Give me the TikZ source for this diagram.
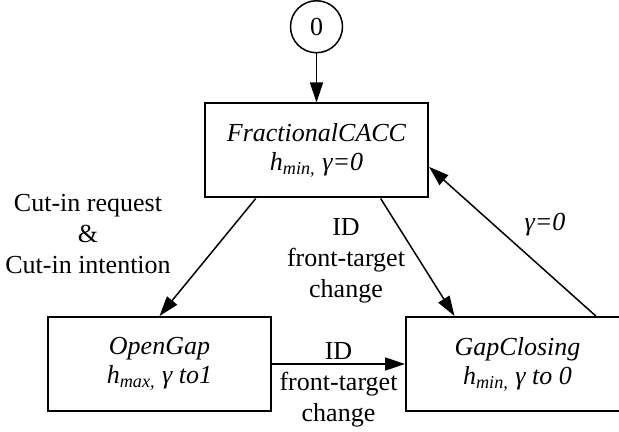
\documentclass[tikz,border=0pt]{standalone}
\usepackage{fontspec}
\setmainfont{Liberation Serif}
\usetikzlibrary{
  arrows.meta,
  positioning,
  calc
}
\tikzset{
  statenode/.style={draw=black,line width=1pt,minimum width=111.5pt,minimum height=47pt,inner sep=0pt,align=center,font=\fontsize{13}{14.5}\selectfont\itshape},
  initnode/.style={draw=black,circle,line width=0.75pt,minimum size=26pt,inner sep=0pt,font=\fontsize{13}{15}\selectfont},
  transarrow/.style={-{Triangle[length=10pt,width=6.5pt]},line width=0.75pt,draw=black},
  guardlabel/.style={align=center,inner sep=0pt,font=\fontsize{13}{15.5}\selectfont}
}

\begin{document}
\begin{tikzpicture}[x=0.5pt,y=-0.5pt]
\useasboundingbox (0,0) rectangle (619,432);
\clip (0,0) rectangle (619,432);

\node[statenode] (cacc) at (316.5,150.5) {FractionalCACC\\h\textsubscript{min,} γ=0};
\node[initnode, above=24.5pt of cacc] (init) {0};
\node[statenode] (open) at (159.5,364) {OpenGap\\h\textsubscript{max,} γ to1};
\node[statenode, right=66.5pt of open] (close) {GapClosing\\h\textsubscript{min,} γ to 0};

\node[guardlabel] (cutin) at (88,234) {Cut-in request\\\&\\Cut-in intention};
\node[guardlabel] (idtop) at (346,261) {ID\\front-target\\change};
\node[guardlabel] (idbot) at (338.5,385) {ID\\front-target\\change};
\node[guardlabel, font=\fontsize{13}{15.5}\selectfont\itshape, anchor=base] (gammazero) at (545,230) {γ=0};

\draw[transarrow] (init) -- (cacc);
\draw[transarrow] ($(cacc.south west)!0.23!(cacc.south east)$) -- (open.north);
\draw[transarrow] ($(cacc.south west)!0.785!(cacc.south east)$) -- ($(close.north west)!0.22!(close.north east)$);
\draw[transarrow] (open) -- (close);
\draw[transarrow] ($(close.north west)!0.848!(close.north east)$) -- ($(cacc.north east)!0.67!(cacc.south east)$);
\end{tikzpicture}
\end{document}
